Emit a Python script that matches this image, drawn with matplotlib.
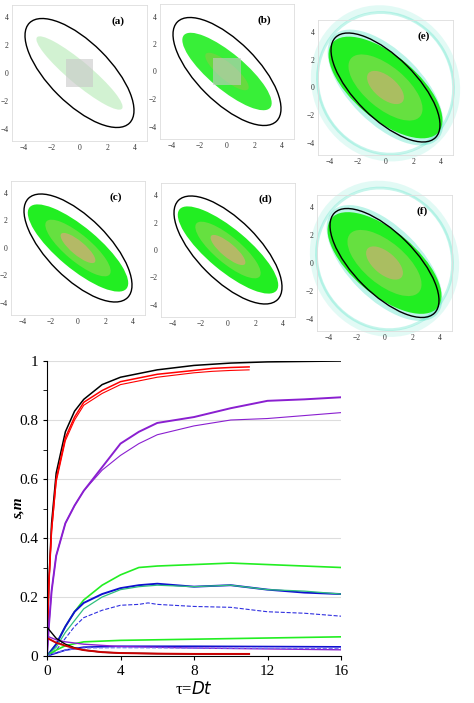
import matplotlib
matplotlib.use("Agg")
import matplotlib.pyplot as plt
from matplotlib.patches import Ellipse, Rectangle
import numpy as np

plt.rcParams['font.family'] = ['Liberation Serif', 'DejaVu Serif']

# ---------------- data ----------------
panel_labels = ['(a)', '(b)', '(c)', '(d)', '(e)', '(f)']
ticks = [-4, -2, 0, 2, 4]
clouds = {
    '(a)': [(8.0, 1.6, '#7fdc7f', 0.35)],
    '(b)': [(8.2, 2.6, '#22ee22', 0.9), (4.0, 1.2, '#88cc44', 0.6)],
    '(c)': [(9.2, 3.0, '#22ee22', 1.0), (6.0, 1.9, '#66e040', 1.0), (3.2, 1.0, '#c8b070', 0.8)],
    '(d)': [(9.2, 3.0, '#22ee22', 1.0), (6.0, 1.9, '#66e040', 1.0), (3.2, 1.0, '#c8b070', 0.8)],
    '(e)': [(10.0, 4.6, '#22ee22', 1.0), (6.5, 3.0, '#66e040', 1.0), (3.2, 1.6, '#c8b070', 0.7)],
    '(f)': [(10.0, 4.6, '#22ee22', 1.0), (6.5, 3.0, '#66e040', 1.0), (3.2, 1.6, '#c8b070', 0.7)],
}
big_ellipse = (10.2, 4.4)
tick_px = {
    '(a)': (24, 18, 135, 128), '(b)': (172, 16, 282, 127), '(e)': (330, 32, 441, 143),
    '(c)': (23, 193, 133, 303), '(d)': (173, 195, 283, 305), '(f)': (329, 208, 440, 318),
}

curves = [
    ([0, .1, .25, .5, 1, 1.5, 2, 3, 4, 6, 8, 10, 12, 16],
     [0, .25, .45, .62, .76, .83, .87, .92, .945, .97, .985, .993, .997, 1.0], 'black', 1.1, '-'),
    ([0, .1, .25, .5, 1, 1.5, 2, 3, 4, 6, 8, 9, 10, 11],
     [0, .24, .43, .6, .74, .81, .86, .9, .93, .955, .968, .975, .978, .98], 'red', 1.1, '-'),
    ([0, .1, .25, .5, 1, 1.5, 2, 3, 4, 6, 8, 9, 10, 11],
     [0, .24, .42, .59, .73, .80, .85, .89, .92, .945, .96, .965, .968, .97], 'red', 0.8, '-'),
    ([0, .1, .25, .5, 1, 1.5, 2, 3, 4, 5, 6, 8, 10, 12, 14, 16],
     [0, .1, .22, .34, .45, .51, .56, .64, .72, .76, .79, .81, .84, .865, .87, .877], '#8a1fd0', 1.4, '-'),
    ([0, .1, .25, .5, 1, 1.5, 2, 3, 4, 5, 6, 8, 10, 12, 14, 16],
     [0, .1, .22, .34, .45, .51, .56, .63, .68, .72, .75, .78, .80, .805, .815, .825], '#8a1fd0', 0.8, '-'),
    ([0, .5, 1, 1.5, 2, 3, 4, 5, 6, 8, 10, 12, 14, 16],
     [0, .04, .1, .15, .19, .24, .275, .3, .305, .31, .315, .31, .305, .3], '#22ee22', 1.2, '-'),
    ([0, .5, 1, 1.5, 2, 3, 4, 5, 6, 8, 10, 12, 14, 16],
     [0, .04, .1, .15, .18, .21, .23, .24, .245, .235, .24, .225, .215, .21], '#1010d0', 1.4, '-'),
    ([0, .5, 1, 1.5, 2, 3, 4, 5, 6, 8, 10, 12, 14, 16],
     [0, .03, .08, .12, .16, .2, .225, .235, .24, .235, .24, .225, .22, .21], '#2fbf7f', 0.9, '-'),
    ([0, .5, 1, 1.5, 2, 3, 4, 5, 5.5, 6, 8, 10, 12, 14, 16],
     [0, .02, .06, .1, .13, .155, .172, .175, .18, .175, .168, .165, .15, .145, .135], '#3030e0', 0.8, '--'),
    ([0, .5, 1, 2, 4, 8, 12, 16],
     [0, .02, .035, .048, .053, .057, .061, .065], '#22ee22', 1.2, '-'),
    ([0, .5, 1, 2, 4, 8, 12, 16],
     [0, .01, .02, .03, .033, .033, .032, .031], '#1010d0', 1.2, '-'),
    ([0, .1, .5, 1, 2, 4, 8, 12, 16],
     [.07, .065, .055, .048, .04, .032, .027, .024, .021], '#8a1fd0', 1.0, '-'),
    ([0, .5, 1, 2, 4, 8, 12, 16],
     [0, .012, .02, .027, .028, .027, .026, .025], '#7070f0', 0.8, '--'),
    ([0, .1, .5, 1, 1.5, 2, 3, 4, 6, 8, 11],
     [.1, .09, .06, .04, .028, .02, .013, .01, .008, .007, .007], 'black', 1.0, '-'),
    ([0, .1, .5, 1, 1.5, 2, 3, 4, 6, 8, 11],
     [.06, .058, .045, .035, .026, .02, .013, .01, .008, .007, .007], '#cc0000', 1.4, '-'),
]

# ---------------- figure ----------------
fig = plt.figure(figsize=(4.74, 7.03), dpi=100)
W, H = 474, 703

for lab, (x0, y0, x1, y1) in tick_px.items():
    ppu = (x1 - x0) / 8.0
    lim = 4.9
    cx, cy = (x0 + x1) / 2, (y0 + y1) / 2
    half = lim * ppu
    ax = fig.add_axes([(cx - half) / W, 1 - (cy + half) / H, 2 * half / W, 2 * half / H])
    ax.set_xlim(-lim, lim); ax.set_ylim(-lim, lim)
    if lab in ('(e)', '(f)'):
        for w_, h_, a_, lw_ in [(11.0, 10.0, 0.15, 5), (10.4, 9.6, 0.3, 2)]:
            ax.add_patch(Ellipse((0, 0.3), w_, h_, angle=-60, fill=False,
                                 ec='#40e0c0', lw=lw_, alpha=a_, clip_on=False))
        ax.add_patch(Ellipse((0, 0), 10.6, 5.2, angle=-45, color='#40e0c0', alpha=0.35, lw=0))
    for w_, h_, c_, a_ in clouds[lab]:
        ax.add_patch(Ellipse((0, 0), w_, h_, angle=-40, color=c_, alpha=a_, lw=0))
    if lab in ('(a)', '(b)'):
        ax.add_patch(Rectangle((-1, -1), 2, 2, color='#c8c8c8', alpha=0.6, lw=0))
    ax.add_patch(Ellipse((0, 0), big_ellipse[0], big_ellipse[1], angle=-45, fill=False,
                         ec='black', lw=1.0))
    ax.set_xticks(ticks); ax.set_yticks(ticks)
    ax.tick_params(labelsize=5.5, length=0, colors='#333333', pad=2)
    for s in ax.spines.values():
        s.set_color('#dddddd'); s.set_linewidth(0.6)
    ax.text(0.78, 0.86, lab, transform=ax.transAxes, fontsize=8, fontweight='bold', ha='center')

# bottom chart
L, R, B, T = 47, 341, 656, 361
ax = fig.add_axes([L / W, 1 - B / H, (R - L) / W, (B - T) / H])
for t, v, c, lw, ls in curves:
    ax.plot(t, v, color=c, lw=lw, ls=ls)
ax.set_xlim(0, 16); ax.set_ylim(0, 1)
ax.set_xticks([0, 4, 8, 12, 16])
ax.set_yticks([0, 0.2, 0.4, 0.6, 0.8, 1.0])
ax.set_yticklabels(['0', '0.2', '0.4', '0.6', '0.8', '1'])
ax.set_yticks(np.arange(0.1, 1.0, 0.2), minor=True)
ax.yaxis.grid(True, color='#dddddd', lw=0.8)
ax.set_axisbelow(True)
ax.tick_params(labelsize=11, direction='out', length=3)
ax.tick_params(which='minor', length=3)
ax.spines['top'].set_visible(False); ax.spines['right'].set_visible(False)
ax.set_ylabel('s,m', fontsize=11, fontweight='bold', fontstyle='italic')
ax.yaxis.set_label_coords(-0.075, 0.5)
ax.set_xlabel(r'τ=$\it{Dt}$', fontsize=12, labelpad=2)

fig.savefig('out.png', dpi=100)
